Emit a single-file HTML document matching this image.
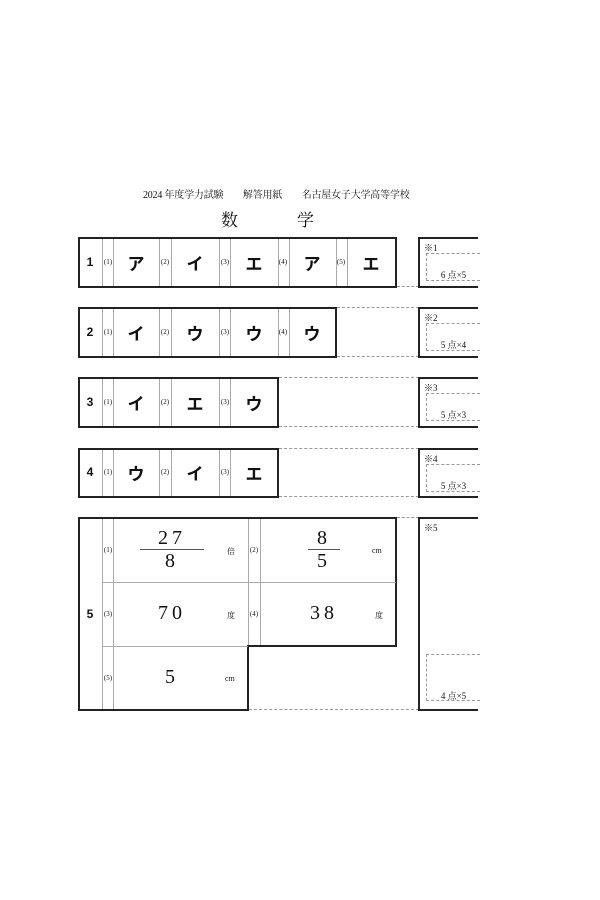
<!DOCTYPE html>
<html><head><meta charset="utf-8"><style>
body{margin:0;width:600px;height:900px;background:#fff;position:relative;overflow:hidden;font-family:"Liberation Serif","Noto Serif CJK SC",serif;color:#111}
div{position:absolute;box-sizing:border-box}
.box{border:2px solid #222}
.v{width:0;border-left:1px solid #aaa}
.h{height:0;border-top:1px solid #aaa}
.dh{height:0;border-top:1px dashed #999}
.n{font-family:"Liberation Sans",sans-serif;font-weight:bold;font-size:12px;text-align:center}
.l{font-size:7px;text-align:center;width:12px}
.k{font-family:"Noto Sans CJK JP",sans-serif;font-size:17px;font-weight:bold;text-align:center;width:46px}
.r{border:2px solid #222;border-right:none}
.rl{font-size:9px;left:4px;top:2px}
.db{border:1px dashed #999;border-right:none;font-size:9px;text-align:center}
.num{font-family:"Liberation Serif",serif;font-size:20px;letter-spacing:4px;text-align:center}
.u{font-size:8px}
</style></head><body>
<div style="left:143px;top:186px;font-size:10px;letter-spacing:-0.2px;white-space:pre;font-family:'Liberation Serif','Noto Serif CJK JP',serif">2024 年度学力試験　　解答用紙　　名古屋女子大学高等学校</div>
<div style="left:221px;top:206px;font-size:17px;font-family:'Noto Serif CJK SC',serif">数</div>
<div style="left:297px;top:206px;font-size:17px;font-family:'Noto Serif CJK SC',serif">学</div>

<!-- Row 1 -->
<div class="box" style="left:78px;top:237px;width:319px;height:51px"></div>
<div class="n" style="left:78px;top:255px;width:24px">1</div>
<div class="v" style="left:102px;top:239px;height:47px"></div><div class="v" style="left:113px;top:239px;height:47px"></div>
<div class="v" style="left:159px;top:239px;height:47px"></div><div class="v" style="left:171px;top:239px;height:47px"></div>
<div class="v" style="left:219px;top:239px;height:47px"></div><div class="v" style="left:230px;top:239px;height:47px"></div>
<div class="v" style="left:278px;top:239px;height:47px"></div><div class="v" style="left:289px;top:239px;height:47px"></div>
<div class="v" style="left:336px;top:239px;height:47px"></div><div class="v" style="left:347px;top:239px;height:47px"></div>
<div class="l" style="left:102px;top:258px">(1)</div><div class="k" style="left:113px;top:250px">ア</div>
<div class="l" style="left:159px;top:258px">(2)</div><div class="k" style="left:172px;top:250px">イ</div>
<div class="l" style="left:219px;top:258px">(3)</div><div class="k" style="left:231px;top:250px">エ</div>
<div class="l" style="left:277px;top:258px">(4)</div><div class="k" style="left:289px;top:250px">ア</div>
<div class="l" style="left:335px;top:258px">(5)</div><div class="k" style="left:348px;top:250px">エ</div>
<div class="dh" style="left:397px;top:286px;width:22px"></div>
<div class="r" style="left:418px;top:237px;width:60px;height:51px"><div class="rl">※1</div>
<div class="db" style="left:6px;top:14px;width:54px;height:28px;padding-top:14px">6 点×5</div></div>

<!-- Row 2 -->
<div class="box" style="left:78px;top:307px;width:259px;height:51px"></div>
<div class="n" style="left:78px;top:325px;width:24px">2</div>
<div class="v" style="left:102px;top:309px;height:47px"></div><div class="v" style="left:113px;top:309px;height:47px"></div>
<div class="v" style="left:159px;top:309px;height:47px"></div><div class="v" style="left:171px;top:309px;height:47px"></div>
<div class="v" style="left:219px;top:309px;height:47px"></div><div class="v" style="left:230px;top:309px;height:47px"></div>
<div class="v" style="left:278px;top:309px;height:47px"></div><div class="v" style="left:289px;top:309px;height:47px"></div>
<div class="l" style="left:102px;top:328px">(1)</div><div class="k" style="left:113px;top:320px">イ</div>
<div class="l" style="left:159px;top:328px">(2)</div><div class="k" style="left:172px;top:320px">ウ</div>
<div class="l" style="left:219px;top:328px">(3)</div><div class="k" style="left:231px;top:320px">ウ</div>
<div class="l" style="left:277px;top:328px">(4)</div><div class="k" style="left:289px;top:320px">ウ</div>
<div class="dh" style="left:337px;top:307px;width:82px"></div><div class="dh" style="left:337px;top:356px;width:82px"></div>
<div class="r" style="left:418px;top:307px;width:60px;height:51px"><div class="rl">※2</div>
<div class="db" style="left:6px;top:14px;width:54px;height:28px;padding-top:14px">5 点×4</div></div>

<!-- Row 3 -->
<div class="box" style="left:78px;top:377px;width:201px;height:51px"></div>
<div class="n" style="left:78px;top:395px;width:24px">3</div>
<div class="v" style="left:102px;top:379px;height:47px"></div><div class="v" style="left:113px;top:379px;height:47px"></div>
<div class="v" style="left:159px;top:379px;height:47px"></div><div class="v" style="left:171px;top:379px;height:47px"></div>
<div class="v" style="left:219px;top:379px;height:47px"></div><div class="v" style="left:230px;top:379px;height:47px"></div>
<div class="l" style="left:102px;top:398px">(1)</div><div class="k" style="left:113px;top:390px">イ</div>
<div class="l" style="left:159px;top:398px">(2)</div><div class="k" style="left:172px;top:390px">エ</div>
<div class="l" style="left:219px;top:398px">(3)</div><div class="k" style="left:231px;top:390px">ウ</div>
<div class="dh" style="left:279px;top:377px;width:140px"></div><div class="dh" style="left:279px;top:426px;width:140px"></div>
<div class="r" style="left:418px;top:377px;width:60px;height:51px"><div class="rl">※3</div>
<div class="db" style="left:6px;top:14px;width:54px;height:28px;padding-top:14px">5 点×3</div></div>

<!-- Row 4 -->
<div class="box" style="left:78px;top:448px;width:201px;height:50px"></div>
<div class="n" style="left:78px;top:465px;width:24px">4</div>
<div class="v" style="left:102px;top:450px;height:46px"></div><div class="v" style="left:113px;top:450px;height:46px"></div>
<div class="v" style="left:159px;top:450px;height:46px"></div><div class="v" style="left:171px;top:450px;height:46px"></div>
<div class="v" style="left:219px;top:450px;height:46px"></div><div class="v" style="left:230px;top:450px;height:46px"></div>
<div class="l" style="left:102px;top:468px">(1)</div><div class="k" style="left:113px;top:460px">ウ</div>
<div class="l" style="left:159px;top:468px">(2)</div><div class="k" style="left:172px;top:460px">イ</div>
<div class="l" style="left:219px;top:468px">(3)</div><div class="k" style="left:231px;top:460px">エ</div>
<div class="dh" style="left:279px;top:448px;width:140px"></div><div class="dh" style="left:279px;top:496px;width:140px"></div>
<div class="r" style="left:418px;top:448px;width:60px;height:50px"><div class="rl">※4</div>
<div class="db" style="left:6px;top:14px;width:54px;height:28px;padding-top:14px">5 点×3</div></div>

<!-- Row 5 -->
<div style="left:78px;top:517px;width:319px;height:130px;border:2px solid #222;border-bottom:none"></div>
<div style="left:247px;top:645px;width:150px;height:2px;background:#222"></div>
<div style="left:78px;top:645px;width:171px;height:66px;border:2px solid #222;border-top:none"></div>
<div class="v" style="left:102px;top:519px;height:190px"></div><div class="v" style="left:113px;top:519px;height:190px"></div>
<div class="v" style="left:248px;top:519px;height:126px"></div><div class="v" style="left:260px;top:519px;height:126px"></div>
<div class="h" style="left:102px;top:582px;width:294px"></div>
<div class="h" style="left:102px;top:646px;width:146px"></div>
<div class="n" style="left:78px;top:607px;width:24px">5</div>
<div class="l" style="left:102px;top:546px">(1)</div>
<div class="num" style="left:140px;top:527px;width:64px;border-bottom:1px solid #555;line-height:22px">27</div>
<div class="num" style="left:140px;top:550px;width:64px;line-height:22px">8</div>
<div class="u" style="left:227px;top:546px">倍</div>
<div class="l" style="left:248px;top:546px">(2)</div>
<div class="num" style="left:308px;top:527px;width:32px;border-bottom:1px solid #555;line-height:22px">8</div>
<div class="num" style="left:308px;top:550px;width:32px;line-height:22px">5</div>
<div class="u" style="left:372px;top:546px">cm</div>
<div class="l" style="left:102px;top:610px">(3)</div>
<div class="num" style="left:140px;top:602px;width:64px">70</div>
<div class="u" style="left:227px;top:610px">度</div>
<div class="l" style="left:248px;top:610px">(4)</div>
<div class="num" style="left:292px;top:602px;width:64px">38</div>
<div class="u" style="left:375px;top:610px">度</div>
<div class="l" style="left:102px;top:674px">(5)</div>
<div class="num" style="left:140px;top:666px;width:64px">5</div>
<div class="u" style="left:225px;top:674px">cm</div>
<div class="dh" style="left:397px;top:517px;width:22px"></div>
<div class="dh" style="left:249px;top:709px;width:170px"></div>
<div class="r" style="left:418px;top:517px;width:60px;height:194px"><div class="rl">※5</div>
<div class="db" style="left:6px;top:135px;width:54px;height:47px;padding-top:34px">4 点×5</div></div>
</body></html>
